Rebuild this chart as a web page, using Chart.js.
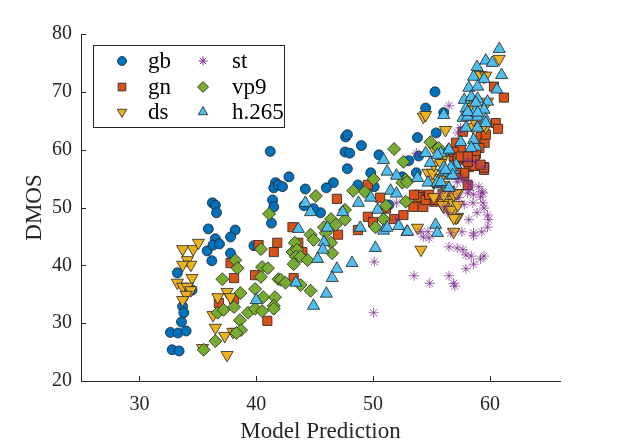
<!DOCTYPE html>
<html>
<head>
<meta charset="utf-8">
<script src="https://cdn.jsdelivr.net/npm/chart.js@4/dist/chart.umd.min.js"></script>
<style>
  html, body { margin: 0; padding: 0; background: #fff; }
  canvas { display: block; }
</style>
</head>
<body>
<canvas id="chart" width="621" height="444"></canvas>
<script>
// data, [model prediction, DMOS]
const gb = [
  [33.25,38.7],[34.5,35.7],[33.7,32.9],[33.8,31.8],[33.6,30.2],[32.65,28.4],[33.3,28.3],[34.0,28.65],
  [32.8,25.4],[33.4,25.2],[35.8,42.5],[36.2,40.8],[36.5,44.6],[36.3,43.5],[36.85,43.7],[35.9,46.3],
  [36.25,50.8],[36.5,50.4],[36.6,49.1],[37.8,42.1],[38.2,46.1],[37.8,44.9],[39.8,43.4],[41.2,59.7],
  [41.65,54.3],[41.5,53.4],[41.4,51.3],[41.5,50.1],[41.3,47.3],[47.65,62.2],[47.8,62.6],[49.0,60.7],
  [47.6,59.6],[48.0,59.4],[47.8,56.7],[50.5,59.1],[49.8,56.0],[53.8,62.1],[53.9,58.9],[53.7,56.0],
  [52.5,55.3],[48.7,53.9],[50.1,53.6],[46.6,54.3],[46.0,53.4],[44.2,53.2],[42.8,55.3],[41.9,53.9],
  [42.25,53.6],[44.1,50.3],[45.5,49.1],[44.9,49.8],[51.35,50.45],[55.3,70.0],[54.5,67.2],[56.05,66.4],
  [55.4,62.9],[53.05,58.1]
];
const gn = [
  [40.2,43.5],[41.8,43.9],[41.5,42.3],[37.8,40.4],[38.1,37.8],[39.9,38.3],[36.8,33.5],[38.1,34.2],
  [40.95,30.4],[46.9,51.5],[50.6,51.7],[49.55,53.9],[49.55,48.4],[50.0,47.5],[51.1,49.8],[51.8,48.0],
  [52.6,48.7],[53.45,50.1],[54.0,52.0],[54.5,51.5],[48.7,46.1],[47.0,45.3],[43.1,46.6],[43.6,43.9],
  [43.95,42.3],[43.2,37.8],[55.2,51.0],[57.8,55.6],[59.5,56.5],[60.35,70.9],[61.2,69.0],[60.5,64.6],
  [60.7,63.6],[59.2,62.2],[59.55,61.2],[59.1,60.3],[58.8,59.3],[57.4,58.9],[58.1,58.1],[58.7,58.2],
  [58.2,57.0],[58.7,57.2],[59.5,57.0],[57.8,56.0],[53.9,52.2],[57.7,63.1],[57.1,61.2],[57.5,60.3],
  [58.1,57.9],[57.1,56.0],[56.9,58.8],[57.25,58.2],[55.35,51.3],[54.3,50.1],[58.1,53.9],[59.65,62.6],
  [53.8,51.8],[54.5,51.3],[54.8,52.2],[56.9,59.6],[57.25,58.6],[57.5,58.8],[58.1,58.8],[59.5,56.9],
  [59.2,57.4],[53.5,52.2]
];
const ds = [
  [33.7,42.8],[34.6,42.8],[35.05,43.9],[34.1,40.9],[34.4,40.1],[33.7,40.1],[34.5,37.8],[33.25,37.0],
  [33.7,36.3],[34.1,36.3],[34.4,35.7],[34.0,34.9],[33.7,34.0],[36.7,34.5],[37.5,35.4],[37.8,34.5],
  [36.3,31.4],[36.5,29.2],[37.3,27.8],[38.0,28.5],[38.3,28.5],[35.4,25.7],[37.5,24.5],[53.8,46.5],
  [54.1,42.7],[54.7,56.0],[56.9,45.8],[56.65,49.1],[57.25,48.4],[56.05,52.5],[56.65,52.0],[56.5,50.8],
  [56.05,50.8],[57.25,52.5],[55.2,51.8],[55.1,56.0],[57.1,48.2],[60.8,75.7],[54.3,65.7],[56.2,63.4],
  [58.55,63.9],[59.65,63.9],[59.5,72.6],[59.8,68.3],[55.95,58.4],[54.5,66.0],[59.5,64.3],[55.1,60.5],
  [55.2,57.4],[55.8,57.7],[56.5,53.0],[56.9,52.2],[56.05,50.1],[56.9,49.6],[55.8,55.1],[56.05,52.2],
  [57.1,52.5],[55.95,50.45],[56.65,49.6],[57.25,50.45],[56.9,48.2],[56.05,53.9],[55.2,54.3],[59.2,72.9],
  [59.65,72.8],[58.4,67.8],[58.6,65.2]
];
const st = [
  [53.7,59.4],[52.0,50.8],[52.0,47.9],[50.1,40.6],[53.5,38.2],[50.05,31.8],[54.7,45.8],[54.3,44.9],
  [54.85,36.9],[56.5,38.2],[57.0,36.4],[56.9,36.9],[57.95,39.4],[58.6,40.2],[59.2,41.1],[59.5,41.6],
  [56.5,43.2],[57.2,43.0],[57.7,42.7],[57.95,41.8],[58.4,41.6],[56.65,45.6],[57.6,45.8],[58.6,45.6],
  [58.6,45.1],[59.3,45.8],[59.8,46.6],[59.9,47.9],[59.8,48.7],[59.5,49.9],[59.4,50.8],[59.2,51.8],
  [59.3,52.7],[59.05,53.6],[58.2,47.9],[58.9,49.1],[58.55,50.8],[58.6,52.2],[58.2,53.0],[58.4,53.9],
  [57.8,50.5],[57.35,51.7],[56.9,53.0],[57.2,54.4],[56.4,49.1],[56.05,50.1],[54.1,45.8],[54.8,44.7],
  [55.8,52.5],[56.4,53.0],[58.1,54.3],[56.5,67.6],[57.5,63.8],[57.8,63.4],[59.5,57.0],[59.4,52.5],
  [58.1,52.5],[57.35,55.1],[57.25,62.9],[58.1,58.2],[58.8,57.7],[57.7,54.8]
];
const vp9 = [
  [41.1,48.9],[40.4,42.8],[38.2,40.9],[38.4,39.5],[37.1,37.6],[40.5,39.7],[41.0,39.5],[40.4,38.0],
  [41.9,37.6],[38.65,35.2],[39.9,35.9],[40.6,34.5],[41.6,34.5],[38.1,32.8],[39.3,31.8],[39.9,32.5],
  [40.5,32.1],[41.5,33.0],[36.7,31.8],[37.2,32.3],[38.6,30.5],[38.7,28.8],[38.3,28.3],[36.5,26.9],
  [35.5,25.4],[51.8,60.1],[52.6,57.9],[52.8,54.8],[52.5,54.3],[50.05,54.9],[48.3,52.9],[49.3,52.7],
  [45.1,52.0],[51.1,50.3],[52.8,51.0],[47.6,49.6],[47.6,47.9],[46.4,48.0],[46.8,47.0],[45.8,46.6],
  [45.95,45.6],[44.65,45.3],[44.9,44.4],[50.9,48.0],[50.2,46.6],[46.4,43.9],[46.5,42.1],[43.3,43.9],
  [43.1,42.3],[43.5,42.7],[43.4,41.5],[43.8,41.5],[44.4,40.9],[43.2,40.2],[42.1,37.5],[42.5,37.0],
  [43.8,36.6],[44.65,35.6],[41.5,32.5],[54.9,61.3],[55.6,60.3],[52.9,54.4]
];
const h265 = [
  [40.0,34.0],[50.9,58.2],[51.2,56.2],[52.0,55.5],[53.8,55.1],[51.5,52.9],[52.0,52.4],[49.8,51.7],
  [48.75,50.8],[50.4,49.6],[44.2,50.8],[44.65,49.2],[47.4,49.2],[43.6,46.3],[48.9,46.5],[50.9,46.0],
  [51.2,46.5],[52.2,46.8],[52.9,45.8],[46.1,46.5],[45.8,44.0],[45.7,42.7],[45.25,41.1],[48.2,40.4],
  [50.2,43.0],[46.9,39.4],[46.5,37.8],[43.4,37.0],[46.0,35.1],[44.9,33.0],[52.95,45.8],[55.35,47.0],
  [55.5,45.6],[54.7,54.3],[55.6,54.0],[56.05,56.2],[60.8,77.4],[59.65,75.4],[60.2,75.0],[58.9,74.3],
  [58.6,72.6],[59.5,72.2],[61.0,72.9],[58.2,70.7],[58.95,70.9],[60.6,70.4],[57.8,68.6],[58.4,69.1],
  [58.95,68.8],[59.8,68.3],[57.95,67.1],[58.8,66.9],[59.5,66.9],[56.05,66.0],[57.7,65.5],[58.1,65.7],
  [58.95,65.7],[59.65,65.2],[57.95,63.8],[58.95,63.8],[57.5,61.3],[58.6,60.8],[58.8,60.5],[56.4,59.8],
  [55.8,59.4],[57.1,57.4],[56.9,56.5],[56.5,56.0],[54.5,59.4],[54.9,57.7],[56.05,56.9],[55.7,54.1],
  [56.65,55.5],[58.8,68.1],[58.1,66.5],[58.95,66.4],[59.65,64.6],[58.6,61.7],[58.4,60.3],[56.5,60.0],
  [55.5,59.1],[56.65,56.9],[56.8,55.6],[55.5,54.3],[56.5,53.4],[56.2,56.5],[55.8,54.4]
];

const xTicks = [30, 40, 50, 60];
const yTicks = [20, 30, 40, 50, 60, 70, 80];
const xRange = [25, 66];
const yRange = [20, 80];

const axisColor = '#262626';
const serif = '"Liberation Serif", "DejaVu Serif", serif';

const series = [
  { label: 'gb', data: gb, color: '#0072BD', style: 'circle', r: 5, rot: 0, order: 5 },
  { label: 'gn', data: gn, color: '#D95319', style: 'rect', r: 6.5, rot: 0, order: 4 },
  { label: 'ds', data: ds, color: '#EDB120', style: 'triangle', r: 7, rot: 180, order: 3 },
  { label: 'st', data: st, color: '#7E2F8E', style: 'star', r: 5, rot: 0, order: 2 },
  { label: 'vp9', data: vp9, color: '#77AC30', style: 'rectRot', r: 6.5, rot: 0, order: 1 },
  { label: 'h.265', data: h265, color: '#4DBEEE', style: 'triangle', r: 7, rot: 0, order: 0 }
];

function markerOpts(s, radius) {
  return {
    pointStyle: s.style,
    radius: radius,
    rotation: s.rot,
    borderWidth: s.style === 'star' ? 1 : 0.8
  };
}

// MATLAB style ticks pointing into the plot
const innerTicks = {
  id: 'innerTicks',
  afterDraw(chart) {
    const { ctx, chartArea, scales } = chart;
    ctx.save();
    ctx.strokeStyle = axisColor;
    ctx.lineWidth = 1;
    ctx.beginPath();
    xTicks.forEach(v => {
      const x = Math.round(scales.x.getPixelForValue(v)) + 0.5;
      ctx.moveTo(x, chartArea.bottom);
      ctx.lineTo(x, chartArea.bottom - 5);
    });
    yTicks.forEach(v => {
      const y = Math.round(scales.y.getPixelForValue(v)) + 0.5;
      ctx.moveTo(chartArea.left, y);
      ctx.lineTo(chartArea.left + 5, y);
    });
    ctx.stroke();
    ctx.restore();
  }
};

// boxed legend in the upper left corner, two columns
const boxLegend = {
  id: 'boxLegend',
  afterDraw(chart) {
    const ctx = chart.ctx;
    const bx = 93.5, by = 45.5, bw = 191, bh = 82;
    ctx.save();
    ctx.fillStyle = '#fff';
    ctx.fillRect(bx, by, bw, bh);
    ctx.strokeStyle = axisColor;
    ctx.lineWidth = 1;
    ctx.strokeRect(bx, by, bw, bh);
    const rows = [61, 87, 112];
    const cols = [{ m: 122, t: 148 }, { m: 203, t: 232 }];
    ctx.font = '23px ' + serif;
    ctx.textBaseline = 'middle';
    series.forEach((s, i) => {
      const col = cols[Math.floor(i / 3)];
      const y = rows[i % 3];
      ctx.fillStyle = s.color;
      ctx.strokeStyle = s.style === 'star' ? s.color : '#222';
      const small = s.style === 'star' || s.style === 'circle' ? 4.5 : 5.5;
      ctx.lineWidth = s.style === 'star' ? 1 : 0.8;
      Chart.helpers.drawPoint(ctx, markerOpts(s, small), col.m, y);
      ctx.fillStyle = '#000';
      ctx.fillText(s.label, col.t, y + 1);
    });
    ctx.restore();
  }
};

new Chart(document.getElementById('chart').getContext('2d'), {
  type: 'scatter',
  data: {
    datasets: series.map(s => ({
      label: s.label,
      data: s.data.map(p => ({ x: p[0], y: p[1] })),
      order: s.order,
      pointStyle: s.style,
      pointRadius: s.r,
      pointRotation: s.rot,
      backgroundColor: s.style === 'star' ? 'rgba(126,47,142,0.75)' : s.color,
      borderColor: s.style === 'star' ? 'rgba(126,47,142,0.75)' : '#222',
      borderWidth: s.style === 'star' ? 1 : 0.8
    }))
  },
  options: {
    responsive: false,
    animation: false,
    layout: { padding: { left: 0, right: 61, top: 34, bottom: 0 } },
    plugins: {
      legend: { display: false },
      tooltip: { enabled: false }
    },
    scales: {
      x: {
        type: 'linear',
        min: xRange[0],
        max: xRange[1],
        afterBuildTicks: scale => { scale.ticks = xTicks.map(v => ({ value: v })); },
        afterFit: scale => { scale.height = 63; },
        grid: { display: false, drawTicks: false },
        border: { display: true, color: axisColor, width: 1 },
        ticks: { color: axisColor, padding: 12, font: { family: serif, size: 20 } },
        title: {
          display: true,
          text: 'Model Prediction',
          color: axisColor,
          padding: { top: 0, bottom: 1 },
          font: { family: serif, size: 23, lineHeight: 1 }
        }
      },
      y: {
        type: 'linear',
        min: yRange[0],
        max: yRange[1],
        afterBuildTicks: scale => { scale.ticks = yTicks.map(v => ({ value: v })); },
        afterFit: scale => { scale.width = 81; },
        grid: { display: false, drawTicks: false },
        border: { display: true, color: axisColor, width: 1 },
        ticks: { color: axisColor, padding: 9, font: { family: serif, size: 20 } },
        title: {
          display: true,
          text: 'DMOS',
          color: axisColor,
          padding: { top: 23, bottom: 0 },
          font: { family: serif, size: 23, lineHeight: 1 }
        }
      }
    }
  },
  plugins: [innerTicks, boxLegend]
});
</script>
</body>
</html>
